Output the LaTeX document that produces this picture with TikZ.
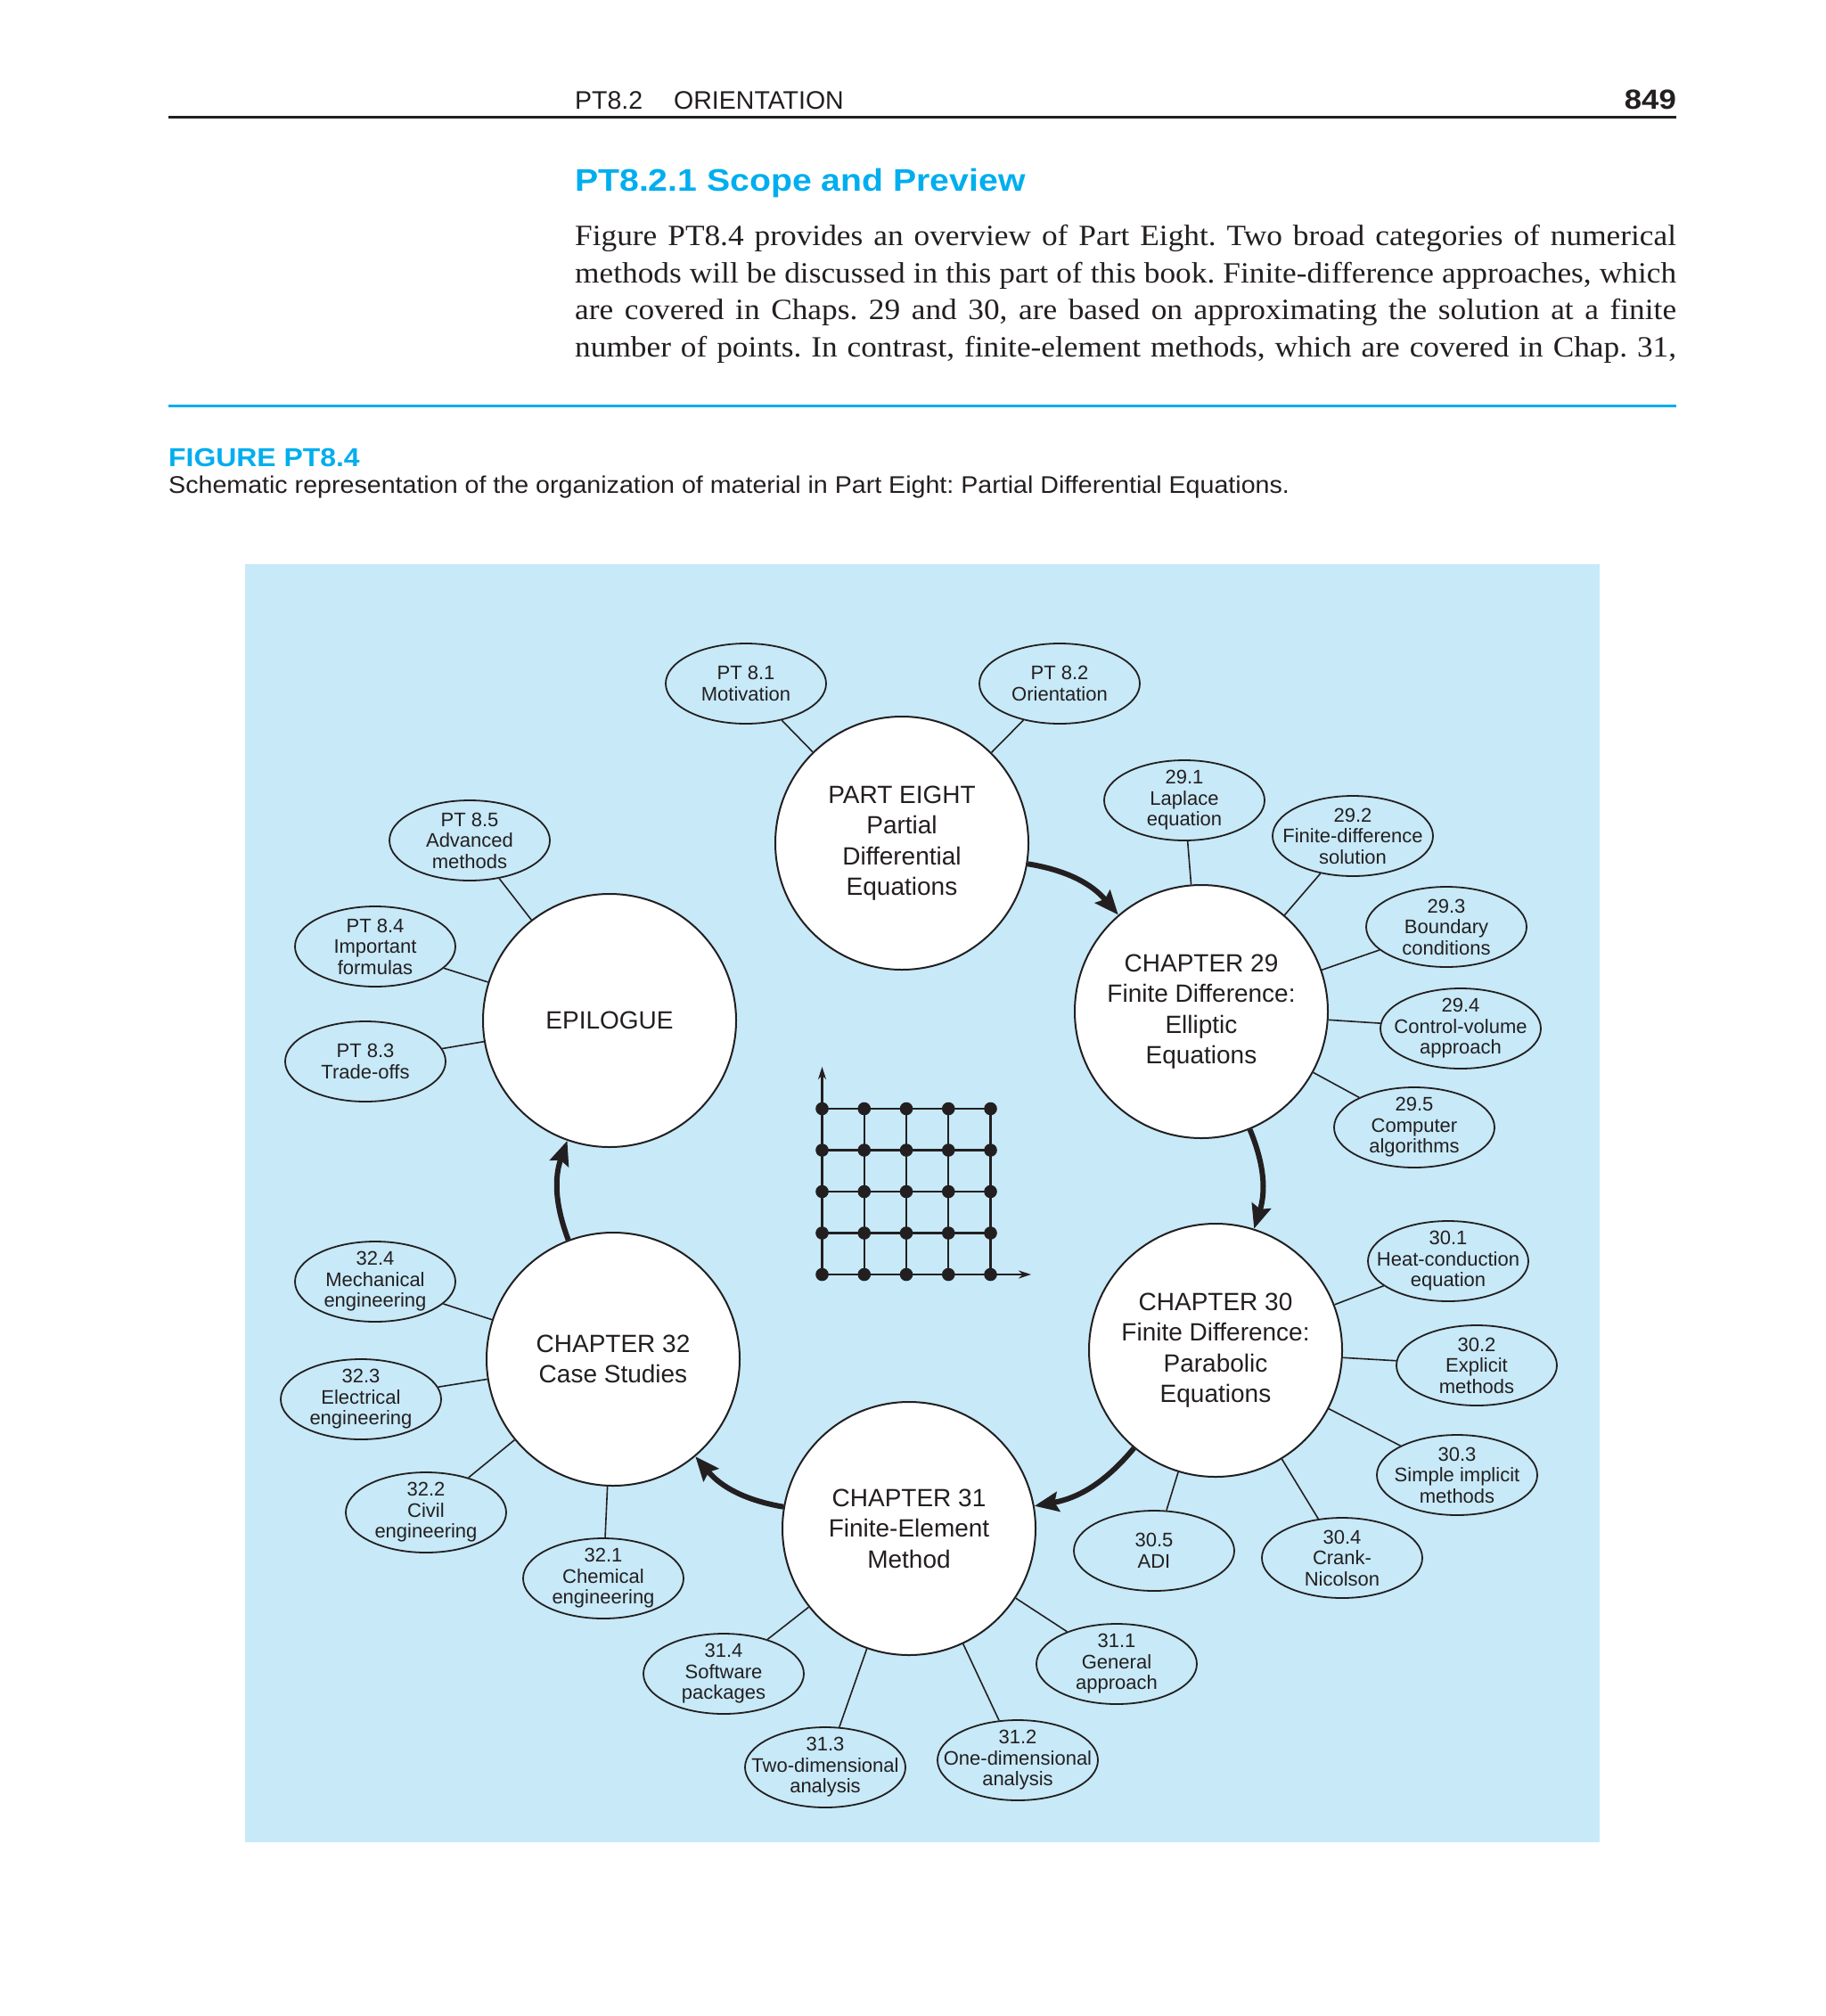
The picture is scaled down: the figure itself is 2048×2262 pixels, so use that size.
\documentclass[tikz,border=0pt]{standalone}
\usepackage{graphicx}
\usepackage{fontspec}
\setmainfont{Liberation Serif}
\setsansfont{Liberation Sans}
\usetikzlibrary{arrows.meta,shapes.geometric}
\definecolor{cyanbook}{RGB}{0,174,239}
\definecolor{panel}{RGB}{199,233,248}
\definecolor{ink}{RGB}{35,31,32}
\newcommand\subnode[3]{\node[sub] (#1) at (#2) {};\node[subtext] at (#1) {#3};}
\newcommand\bodyline[1]{\scalebox{1.07}[1]{\makebox[1155pt][s]{#1}}}
\frenchspacing
\begin{document}
\begin{tikzpicture}[x=1pt,y=-1pt,
  sub/.style={draw=ink,line width=1.8pt,ellipse,minimum width=180pt,minimum height=90pt,inner sep=0pt},
  subtext/.style={align=center,font=\sffamily\fontsize{22}{23.5}\selectfont,text=ink,inner sep=0pt},
  chap/.style={draw=ink,fill=white,circle,line width=2pt,minimum size=284pt,inner sep=0pt,align=center,font=\sffamily\fontsize{28}{34.5}\selectfont,text=ink},
  link/.style={draw=ink,line width=1.6pt},
  flow/.style={draw=ink,line width=6pt,-{Stealth[length=27pt,width=22pt,inset=4pt]},bend left=20},
  gridline/.style={draw=ink,line width=2.2pt},
  txt/.style={inner sep=0pt,text=ink}]
\useasboundingbox (0,0) rectangle (2048,2262);
\fill[white] (0,0) rectangle (2048,2262);
% header
\node[txt,anchor=base west,font=\sffamily\fontsize{28.5}{30}\selectfont] (hdr) at (645,122.5) {PT8.2\hspace{35pt}ORIENTATION};
\node[txt,anchor=base east,font=\sffamily\bfseries\fontsize{31}{33}\selectfont] (pg) at (1881,122.5) {\scalebox{1.12}[1]{849}};
\draw[ink,line width=2.5pt] (189,131.5) -- (1881,131.5);
\node[txt,anchor=base west,text=cyanbook,font=\sffamily\bfseries\fontsize{35}{38}\selectfont] (sec) at (645,214) {\scalebox{1.12}[1]{PT8.2.1 Scope and Preview}};
\node[txt,anchor=base west,font=\fontsize{33}{41.5}\selectfont] (b1) at (645,275.5) {\bodyline{Figure PT8.4 provides an overview of Part Eight. Two broad categories of numerical}};
\node[txt,anchor=base west,font=\fontsize{33}{41.5}\selectfont] (b2) at (645,317) {\bodyline{methods will be discussed in this part of this book. Finite-difference approaches, which}};
\node[txt,anchor=base west,font=\fontsize{33}{41.5}\selectfont] (b3) at (645,358.5) {\bodyline{are covered in Chaps. 29 and 30, are based on approximating the solution at a finite}};
\node[txt,anchor=base west,font=\fontsize{33}{41.5}\selectfont] (b4) at (645,400) {\bodyline{number of points. In contrast, finite-element methods, which are covered in Chap. 31,}};
\draw[cyanbook,line width=3.5pt] (189,455.5) -- (1881,455.5);
\node[txt,anchor=base west,text=cyanbook,font=\sffamily\bfseries\fontsize{29}{31}\selectfont] (fig) at (189,523) {\scalebox{1.1}[1]{FIGURE PT8.4}};
\node[txt,anchor=base west,font=\sffamily\fontsize{27}{29}\selectfont] (cap) at (189,553) {\scalebox{1.06}[1]{Schematic representation of the organization of material in Part Eight: Partial Differential Equations.}};
% panel
\fill[panel] (275,633) rectangle (1795,2067);
% grid
\foreach \i in {0,...,4} {
  \draw[gridline] (922.5+47.25*\i,1244) -- (922.5+47.25*\i,1430);
  \draw[gridline] (922.5,1244+46.5*\i) -- (1111.5,1244+46.5*\i);
}
\draw[gridline,-{Stealth[length=14pt,width=9pt]}] (922.5,1244) -- (922.5,1197);
\draw[gridline,-{Stealth[length=14pt,width=9pt]}] (1111.5,1430) -- (1157,1430);
\foreach \i in {0,...,4} \foreach \j in {0,...,4}
  \fill[ink] (922.5+47.25*\i,1244+46.5*\j) circle[radius=7.3pt];
% chapters
\node[chap] (pe) at (1012,946) {PART EIGHT\\Partial\\Differential\\Equations};
\node[chap] (c29) at (1348,1135) {CHAPTER 29\\Finite Difference:\\Elliptic\\Equations};
\node[chap] (c30) at (1364,1515) {CHAPTER 30\\Finite Difference:\\Parabolic\\Equations};
\node[chap] (c31) at (1020,1715) {CHAPTER 31\\Finite-Element\\Method};
\node[chap] (c32) at (688,1525) {CHAPTER 32\\Case Studies};
\node[chap] (epi) at (684,1145) {EPILOGUE};
% sub topics
\subnode{p81}{837,767}{PT 8.1\\Motivation}
\subnode{p82}{1189,767}{PT 8.2\\Orientation}
\subnode{s291}{1329,898}{29.1\\Laplace\\equation}
\subnode{s292}{1518,938}{29.2\\Finite-difference\\solution}
\subnode{s293}{1623,1040}{29.3\\Boundary\\conditions}
\subnode{s294}{1639,1154}{29.4\\Control-volume\\approach}
\subnode{s295}{1587,1265}{29.5\\Computer\\algorithms}
\subnode{s301}{1625,1415}{30.1\\Heat-conduction\\equation}
\subnode{s302}{1657,1532}{30.2\\Explicit\\methods}
\subnode{s303}{1635,1655}{30.3\\Simple implicit\\methods}
\subnode{s304}{1506,1748}{30.4\\Crank-\\Nicolson}
\subnode{s305}{1295,1740}{30.5\\ADI}
\subnode{s311}{1253,1867}{31.1\\General\\approach}
\subnode{s312}{1142,1975}{31.2\\One-dimensional\\analysis}
\subnode{s313}{926,1983}{31.3\\Two-dimensional\\analysis}
\subnode{s314}{812,1878}{31.4\\Software\\packages}
\subnode{s321}{677,1771}{32.1\\Chemical\\engineering}
\subnode{s322}{478,1697}{32.2\\Civil\\engineering}
\subnode{s323}{405,1570}{32.3\\Electrical\\engineering}
\subnode{s324}{421,1438}{32.4\\Mechanical\\engineering}
\subnode{p83}{410,1191}{PT 8.3\\Trade-offs}
\subnode{p84}{421,1062}{PT 8.4\\Important\\formulas}
\subnode{p85}{527,943}{PT 8.5\\Advanced\\methods}
% links
\foreach \a/\b in {pe/p81,pe/p82,c29/s291,c29/s292,c29/s293,c29/s294,c29/s295,
  c30/s301,c30/s302,c30/s303,c30/s304,c30/s305,c31/s311,c31/s312,c31/s313,c31/s314,
  c32/s321,c32/s322,c32/s323,c32/s324,epi/p83,epi/p84,epi/p85}
  \draw[link] (\a) -- (\b);
% flow arrows
\draw[flow] (pe) to (c29);
\draw[flow] (c29) to (c30);
\draw[flow] (c30) to (c31);
\draw[flow] (c31) to (c32);
\draw[flow] (c32) to (epi);
\end{tikzpicture}
\end{document}
